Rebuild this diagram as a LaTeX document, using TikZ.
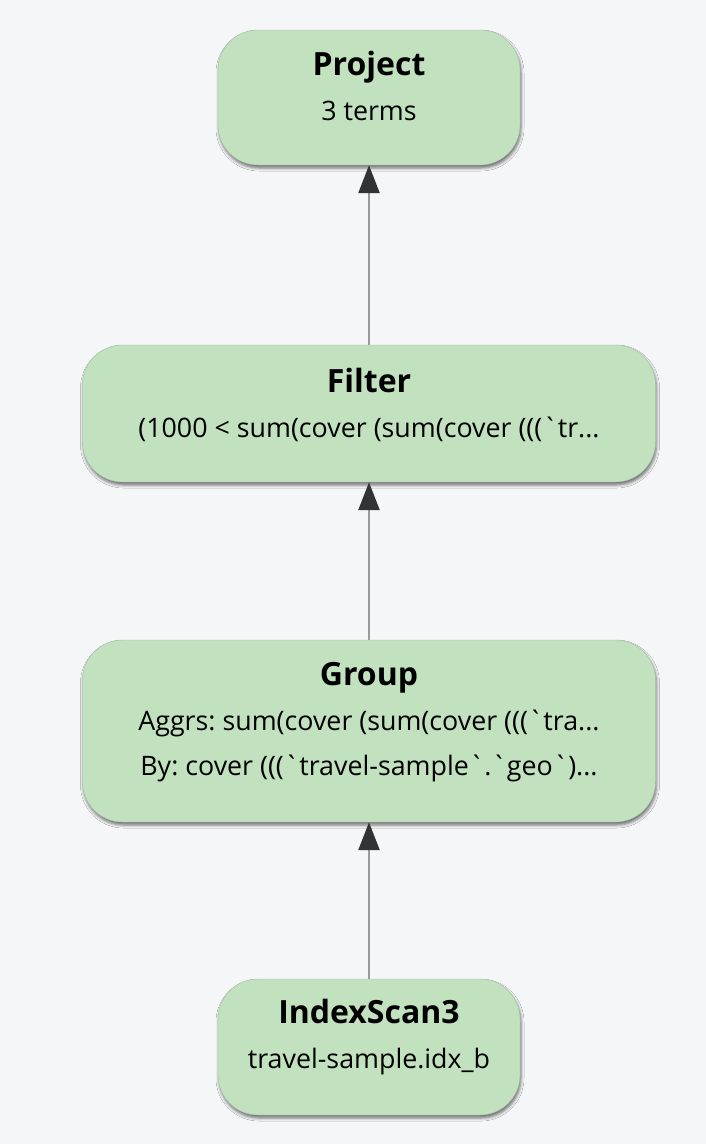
\documentclass[tikz,border=0pt]{standalone}
\usepackage{fontspec}
\setmainfont{Open Sans}
\usetikzlibrary{arrows.meta,shadows.blur}
\definecolor{bgc}{HTML}{F5F6F8}
\definecolor{boxc}{HTML}{C2E1BF}
\definecolor{linec}{HTML}{9A9A9A}
\definecolor{tipc}{HTML}{333333}
\newcommand{\bq}{\textasciigrave}
\frenchspacing
\tikzset{
  opbox/.style={rounded corners=40pt, fill=boxc, draw=boxc!85!black, line width=0.4pt, inner sep=0pt,
    blur shadow={shadow xshift=1pt, shadow yshift=-3pt, shadow blur radius=3pt, shadow opacity=55}},
  ttl/.style={anchor=base, inner sep=0pt, font=\fontsize{32}{32}\selectfont\bfseries},
  sub/.style={anchor=base, inner sep=0pt, font=\fontsize{26.8}{26.8}\selectfont},
  flow/.style={draw=linec, line width=2.5pt, -{Triangle[length=28pt,width=21pt,color=tipc,fill=tipc]}}
}
\begin{document}
\begin{tikzpicture}[x=1pt,y=-1pt]
\fill[bgc] (0,0) rectangle (706,1144);
\useasboundingbox (0,0) rectangle (706,1144);
% boxes
\node[opbox, minimum width=302pt, minimum height=135pt] (p) at (369,97.5) {};
\node[opbox, minimum width=573pt, minimum height=137pt] (f) at (369,413.5) {};
\node[opbox, minimum width=573pt, minimum height=182pt] (g) at (369,731) {};
\node[opbox, minimum width=302pt, minimum height=136pt] (i) at (369,1047) {};
% texts
\node[ttl] (pt) at (369,75) {Project};
\node[sub] (ps) at (369,120) {3 terms};
\node[ttl] (ft) at (369,392) {Filter};
\node[sub] (fs) at (369,437) {(1000 < sum(cover (sum(cover (((\bq tr...};
\node[ttl] (gt) at (369,685) {Group};
\node[sub] (ga) at (369,730) {Aggrs: sum(cover (sum(cover (((\bq tra...};
\node[sub] (gb) at (369,775) {By: cover (((\bq travel-sample\bq.\bq geo\bq)...};
\node[ttl] (it) at (369,1023) {IndexScan3};
\node[sub] (is) at (369,1068) {travel-sample.idx\_b};
% connectors
\draw[flow] (i.north) -- (g.south);
\draw[flow] (g.north) -- (f.south);
\draw[flow] (f.north) -- (p.south);
\end{tikzpicture}
\end{document}
